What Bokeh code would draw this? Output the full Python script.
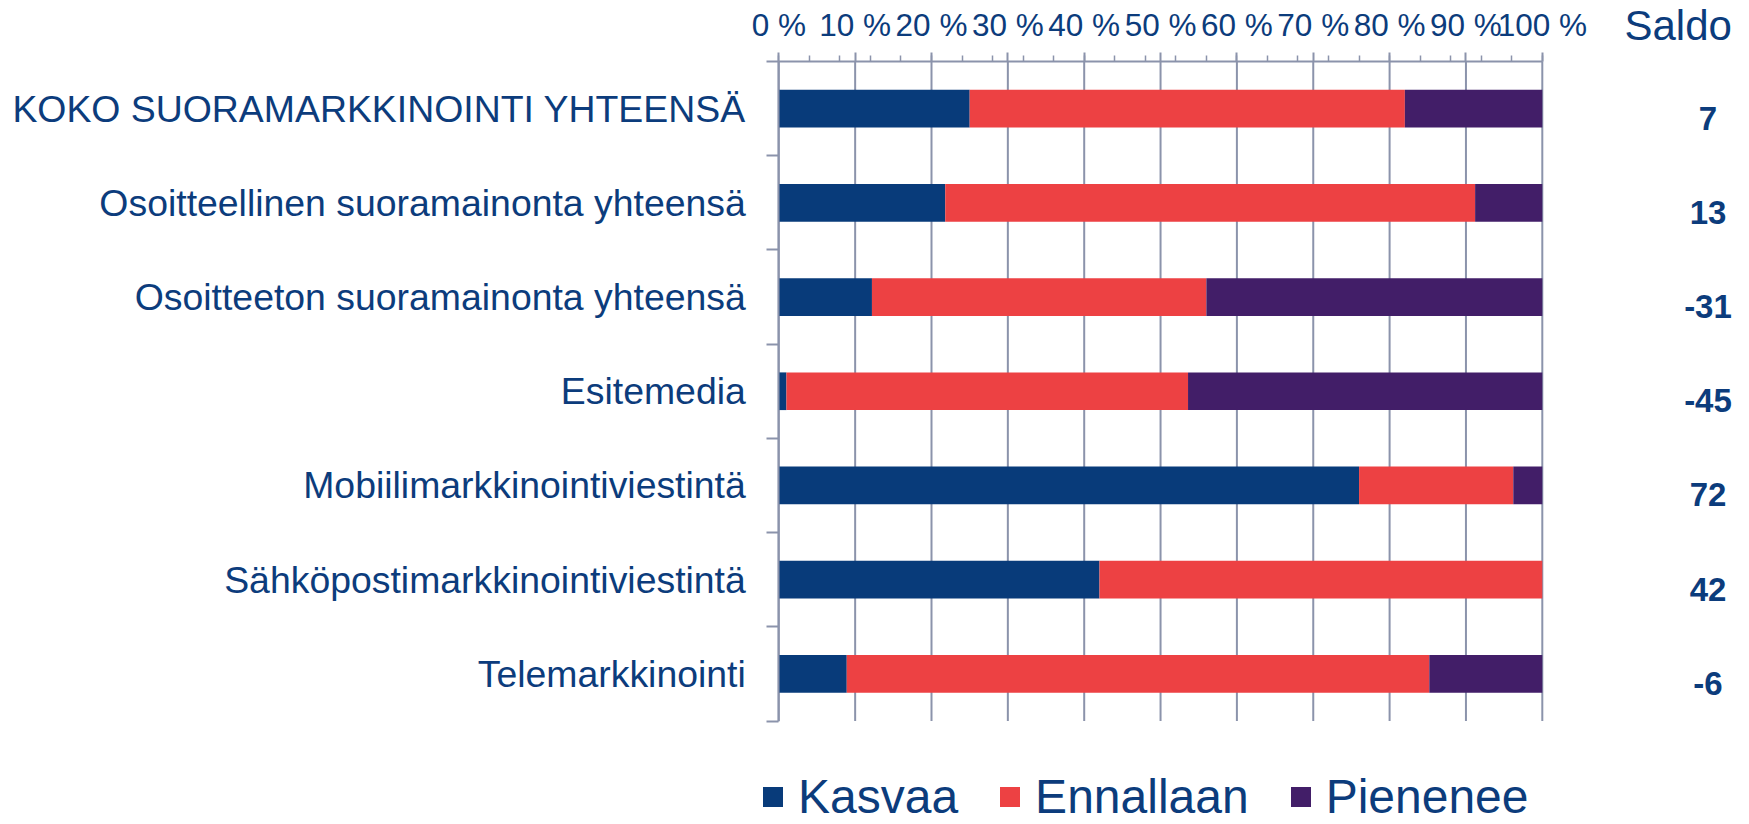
from bokeh.plotting import figure
from bokeh.models import ColumnDataSource, Range1d, FixedTicker, Legend, LegendItem
from bokeh.core.properties import value
from bokeh.embed import file_html
from bokeh.resources import INLINE

# ---- data ----
categories = [
    "KOKO SUORAMARKKINOINTI YHTEENSÄ",
    "Osoitteellinen suoramainonta yhteensä",
    "Osoitteeton suoramainonta yhteensä",
    "Esitemedia",
    "Mobiilimarkkinointiviestintä",
    "Sähköpostimarkkinointiviestintä",
    "Telemarkkinointi",
]
kasvaa = [25.0, 21.8, 12.2, 1.0, 76.0, 42.0, 8.9]
ennallaan = [57.0, 69.4, 43.8, 52.6, 20.2, 58.0, 76.3]
pienenee = [18.0, 8.8, 44.0, 46.4, 3.8, 0.0, 14.8]
saldo = [7, 13, -31, -45, 72, 42, -6]
series_names = ["Kasvaa", "Ennallaan", "Pienenee"]
x_ticks = [0, 10, 20, 30, 40, 50, 60, 70, 80, 90, 100]
x_tick_labels = ["0 %", "10 %", "20 %", "30 %", "40 %", "50 %", "60 %", "70 %", "80 %", "90 %", "100 %"]
x_minor_ticks = list(range(0, 101, 4))
saldo_header = "Saldo"

# ---- style ----
colors = ["#083b7a", "#ed4143", "#421e68"]
FONT = "Liberation Sans"
TEXT = "#0c3c7c"
AXIS = "#8b93ab"

n = len(categories)
ypos = [n - i - 0.5 for i in range(n)]

src = ColumnDataSource(dict(
    y=ypos, cat=categories,
    Kasvaa=kasvaa, Ennallaan=ennallaan, Pienenee=pienenee,
    saldo=[str(s) for s in saldo],
))

# ---- layout (screen px inside the canvas) ----
W, H = 1733, 823
AX_X, AX_TOP, AX_BOTTOM = 778.3, 61.0, 720.5
PPU = 7.635                      # px per percent
CAT = (AX_BOTTOM - AX_TOP) / n   # px per category

x_start = -AX_X / PPU
x_end = (W - AX_X) / PPU
y_end = n + AX_TOP / CAT
y_start = -(H - AX_BOTTOM) / CAT

p = figure(width=W, height=H,
           x_range=Range1d(x_start, x_end), y_range=Range1d(y_start, y_end),
           x_axis_location="above",
           output_backend="svg", toolbar_location=None,
           min_border=0, min_border_left=0, min_border_right=0,
           min_border_top=0, min_border_bottom=0)
p.outline_line_color = None
p.background_fill_color = "white"
p.xgrid.visible = False
p.ygrid.visible = False

# vertical grid lines at the percentage ticks
p.segment(x0=x_ticks, x1=x_ticks, y0=[0] * len(x_ticks), y1=[n] * len(x_ticks),
          line_color=AXIS, line_width=2)

renderers = p.hbar_stack(series_names, y="y", height=0.4, color=colors,
                         line_width=0, source=src)

# saldo column
p.text(x=[117.8], y=[n + 36.5 / CAT], text=[saldo_header],
       text_font=value(FONT), text_font_size="42px", text_color=TEXT,
       text_align="center", text_baseline="middle")
p.text(x=121.7, y="y", text="saldo", source=src,
       text_font=value(FONT), text_font_style="bold", text_font_size="33px",
       text_color=TEXT, text_align="center", text_baseline="middle", y_offset=9.5)

# top axis
ax = p.xaxis[0]
ax.fixed_location = n
ax.ticker = FixedTicker(ticks=x_ticks, minor_ticks=x_minor_ticks)
ax.major_label_overrides = {t: l for t, l in zip(x_ticks, x_tick_labels)}
ax.bounds = (0, 100)
ax.axis_line_color = AXIS
ax.axis_line_width = 2
ax.major_tick_line_color = AXIS
ax.major_tick_line_width = 2
ax.major_tick_out = 9
ax.major_tick_in = 0
ax.minor_tick_line_color = AXIS
ax.minor_tick_line_width = 1.5
ax.minor_tick_out = 6
ax.minor_tick_in = 0
ax.major_label_text_font = FONT
ax.major_label_text_font_size = "31.5px"
ax.major_label_text_color = TEXT
ax.major_label_standoff = 10

# left axis
ay = p.yaxis[0]
ay.fixed_location = 0
ay.ticker = FixedTicker(ticks=ypos, minor_ticks=list(range(n + 1)))
ay.major_label_overrides = {y: c for y, c in zip(ypos, categories)}
ay.bounds = (0, n)
ay.axis_line_color = AXIS
ay.axis_line_width = 2
ay.major_tick_out = 0
ay.major_tick_in = 0
ay.major_tick_line_color = None
ay.minor_tick_line_color = AXIS
ay.minor_tick_line_width = 2
ay.minor_tick_out = 12
ay.minor_tick_in = 0
ay.major_label_text_font = FONT
ay.major_label_text_font_size = "37.4px"
ay.major_label_text_color = TEXT
ay.major_label_standoff = 21

legend = Legend(items=[LegendItem(label=nm, renderers=[r]) for nm, r in zip(series_names, renderers)],
                orientation="horizontal", location=(760, -1),
                glyph_width=25, glyph_height=25, label_standoff=13, spacing=39,
                padding=0, margin=0, border_line_color=None, background_fill_alpha=0,
                label_text_font=FONT, label_text_font_size="48px", label_text_color=TEXT)
p.add_layout(legend, "center")

open("out.html", "w").write(file_html(p, INLINE))
